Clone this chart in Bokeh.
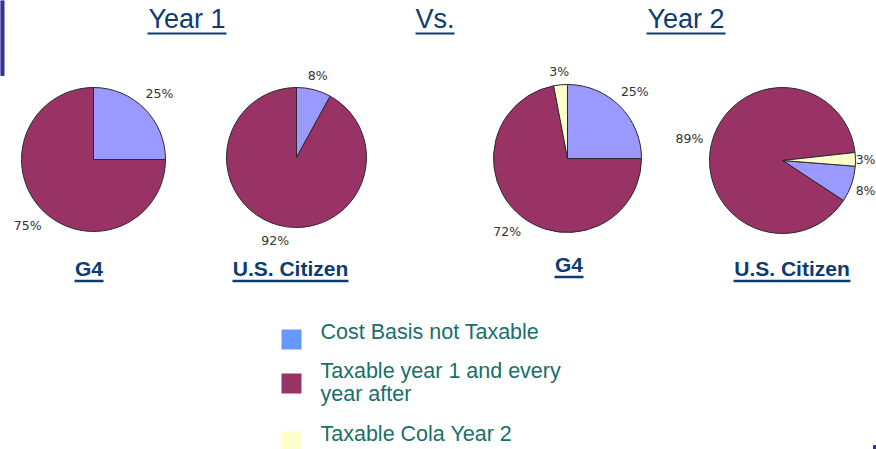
import numpy as np
import textwrap
from bokeh.plotting import figure
from bokeh.models import Range1d, ColumnDataSource
from bokeh.core.properties import value
from bokeh.embed import file_html
from bokeh.resources import INLINE

# ---------------- data ----------------
categories = ["Cost Basis not Taxable",
              "Taxable year 1 and every year after",
              "Taxable Cola Year 2"]
year1_g4 = [25, 75, 0]
year1_us = [8, 92, 0]
year2_g4 = [25, 72, 3]
year2_us = [8, 89, 3]
pie_names = ["G4", "U.S. Citizen", "G4", "U.S. Citizen"]
headings = ["Year 1", "Vs.", "Year 2"]

# ---------------- style / layout ----------------
slice_colors = ["#9999FF", "#993366", "#FFFFCC"]
legend_colors = ["#6699FF", "#993366", "#FFFFCC"]
W, H = 876, 449
pie_values = [year1_g4, year1_us, year2_g4, year2_us]
pie_centers = [(93, 159), (296, 157), (567, 158), (782, 160)]
pie_radii = [72, 70, 74, 73]
pie_start_deg = [90, 90, 90, -4.5]
name_x = [88.5, 290, 568.5, 791.5]
name_base = [277, 277, 273, 277]
name_w = [29, 116, 29, 117]
heading_x = [186.5, 434.5, 685.5]
heading_w = [79, 39, 79]
navy = "#0D3C73"
teal = "#17706A"
BASE_FIX = 0.43  # em shift so that text sits on the intended baseline
HEAD_FS, NAME_FS, LEG_FS, LBL = 27, 21, 21.5, 12.5


def Y(py):
    return H - py


def base_y(py, size):
    return Y(py - BASE_FIX * size)


p = figure(width=W, height=H, x_range=Range1d(0, W), y_range=Range1d(0, H),
           output_backend="svg", toolbar_location=None, min_border=0)
p.axis.visible = False
p.grid.visible = False
p.outline_line_color = None
p.background_fill_color = "white"
p.border_fill_color = "white"

# decorative slide bars
p.quad(left=[0], right=[3.5], bottom=[Y(75)], top=[Y(0)], color="#33339A")
p.quad(left=[873], right=[876], bottom=[Y(449)], top=[Y(445)], color="#33339A")

# headings
p.text(x=heading_x, y=[base_y(30, HEAD_FS)] * 3, text=headings, text_align="center",
       text_baseline="alphabetic", text_font=value("Liberation Sans"),
       text_font_size=f"{HEAD_FS}px", text_color=navy)
p.segment(x0=[x - w / 2 for x, w in zip(heading_x, heading_w)], y0=[Y(33)] * 3,
          x1=[x + w / 2 for x, w in zip(heading_x, heading_w)], y1=[Y(33)] * 3,
          line_color=navy, line_width=2)

# pies
for vals, (cx, cy), r, st, in zip(pie_values, pie_centers, pie_radii, pie_start_deg):
    fr = np.array(vals, dtype=float) / sum(vals)
    cum = np.concatenate([[0], np.cumsum(fr)[:-1]])
    hi = np.radians(st - cum * 360)
    lo = hi - fr * 2 * np.pi
    keep = fr > 0
    mid = (hi + lo) / 2
    src = ColumnDataSource(dict(
        x=[cx] * int(keep.sum()), y=[Y(cy)] * int(keep.sum()),
        start=lo[keep], end=hi[keep],
        color=[c for c, k in zip(slice_colors, keep) if k]))
    p.wedge(x="x", y="y", radius=r, start_angle="start", end_angle="end",
            fill_color="color", line_color="#2A2A2A", line_width=1, source=src)
    texts = [f"{int(v)}%" for v, k in zip(vals, keep) if k]
    lxs, lys = [], []
    for t, m in zip(texts, mid[keep]):
        w = 0.64 * LBL * (len(t) - 1) + 0.95 * LBL
        h = 0.75 * LBL
        d = r + 8 + abs(np.cos(m)) * w / 2 + abs(np.sin(m)) * h / 2
        x = cx + d * np.cos(m)
        x = min(x, W - w / 2 - 1)
        lxs.append(x)
        lys.append(Y(cy) + d * np.sin(m))
    p.text(x=lxs, y=lys, text=texts,
           text_align="center", text_baseline="middle",
           text_font=value("DejaVu Sans"), text_font_size=f"{LBL}px",
           text_color="#333333")

# pie names (bold, underlined)
p.text(x=name_x, y=[base_y(b, NAME_FS) for b in name_base], text=pie_names,
       text_align="center", text_baseline="alphabetic",
       text_font=value("Liberation Sans"), text_font_size=f"{NAME_FS}px",
       text_font_style="bold", text_color=navy)
p.segment(x0=[x - w / 2 for x, w in zip(name_x, name_w)],
          y0=[Y(b + 3.5) for b in name_base],
          x1=[x + w / 2 for x, w in zip(name_x, name_w)],
          y1=[Y(b + 3.5) for b in name_base],
          line_color=navy, line_width=2.5)

# legend
sq_y = [339, 383, 441]
p.rect(x=[291] * 3, y=[Y(v) for v in sq_y], width=20, height=20,
       fill_color=legend_colors, line_color=None)
item_base = [341, 380, 443]
lx, ly, lt = [], [], []
for cat, b in zip(categories, item_base):
    for j, line in enumerate(textwrap.wrap(cat, 24)):
        lx.append(320)
        ly.append(base_y(b + 23 * j, LEG_FS))
        lt.append(line)
p.text(x=lx, y=ly, text=lt, text_align="left", text_baseline="alphabetic",
       text_font=value("Liberation Sans"), text_font_size=f"{LEG_FS}px",
       text_color=teal)

open("out.html", "w").write(file_html(p, INLINE))
